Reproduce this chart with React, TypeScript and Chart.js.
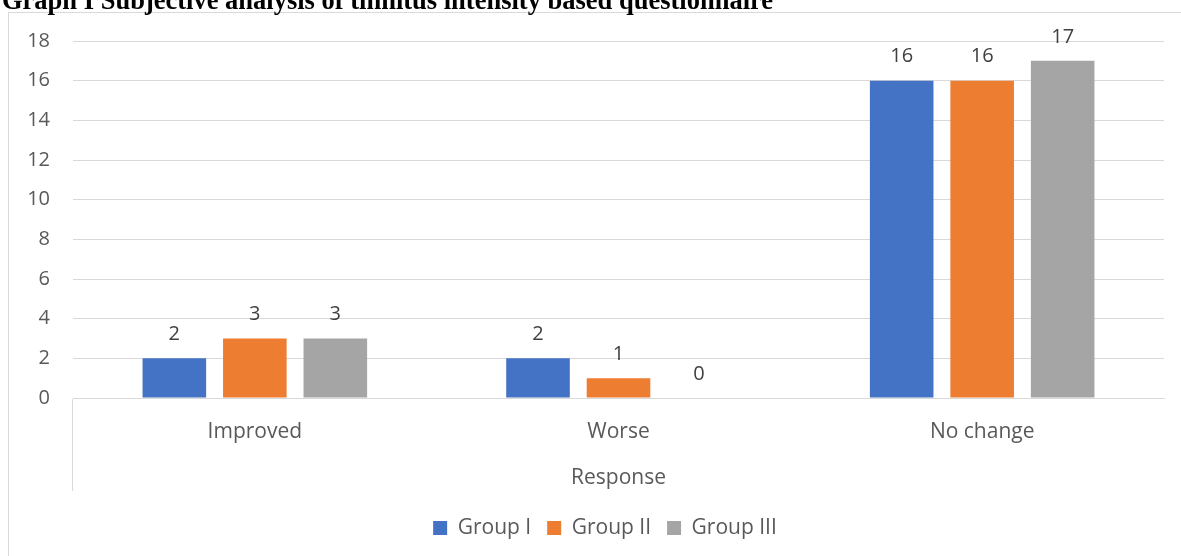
import React, { useEffect, useRef } from "react";
import { Chart, registerables } from "chart.js";

Chart.register(...registerables);

const titleText = "Graph I Subjective analysis of tinnitus intensity based questionnaire";
const categories = ["Improved", "Worse", "No change"];
const seriesNames = ["Group I", "Group II", "Group III"];
const groupI = [2, 2, 16];
const groupII = [3, 1, 16];
const groupIII = [3, 0, 17];
const seriesColors = ["#4472C4", "#ED7D31", "#A5A5A5"];
const yMin = 0;
const yMax = 18;
const yStep = 2;
const xAxisTitle = "Response";

const FONT = '"Open Sans"';
const FS = 21;

const dataLabels = {
  id: "dataLabels",
  afterDatasetsDraw(chart: any) {
    const ctx = chart.ctx;
    ctx.save();
    ctx.font = `${FS - 1}px ${FONT}`;
    ctx.fillStyle = "#404040";
    ctx.textAlign = "center";
    ctx.textBaseline = "middle";
    chart.data.datasets.forEach((ds: any, i: number) => {
      const meta = chart.getDatasetMeta(i);
      meta.data.forEach((el: any, j: number) => {
        ctx.fillText(String(ds.data[j]), el.x, el.y - 24);
      });
    });
    ctx.restore();
  },
};

const shiftLegend = {
  id: "shiftLegend",
  afterLayout(chart: any) {
    const l = chart.legend;
    if (l) {
      l.left += 23;
      l.right += 23;
    }
  },
};

export default function App() {
  const ref = useRef<HTMLCanvasElement | null>(null);

  useEffect(() => {
    if (!ref.current) return;
    const all = [groupI, groupII, groupIII];
    const chart = new Chart(ref.current, {
      type: "bar",
      data: {
        labels: categories,
        datasets: all.map((d, i) => ({
          label: seriesNames[i],
          data: d,
          backgroundColor: seriesColors[i],
          borderWidth: 0,
          categoryPercentage: 0.664,
          barPercentage: 0.79,
        })),
      },
      options: {
        responsive: false,
        animation: false,
        devicePixelRatio: 1,
        layout: { padding: { left: 0, right: 17, top: 41, bottom: 7.5 } },
        plugins: {
          title: { display: false },
          tooltip: { enabled: false },
          legend: {
            position: "bottom",
            labels: {
              color: "#595959",
              font: { family: FONT, size: FS },
              boxWidth: 14,
              boxHeight: 14,
              padding: 16,
            },
          },
        },
        scales: {
          x: {
            grid: {
              offset: true,
              drawOnChartArea: false,
              drawTicks: true,
              tickLength: 93,
              color: (c: any) => (c.index === 0 || c.index === categories.length ? "#d9d9d9" : "rgba(0,0,0,0)"),
            },
            border: { display: true, color: "#d9d9d9", width: 1 },
            ticks: {
              color: "#595959",
              font: { family: FONT, size: FS },
              padding: -72,
              maxRotation: 0,
            },
            title: {
              display: true,
              text: xAxisTitle,
              color: "#595959",
              font: { family: FONT, size: FS },
              padding: { top: 0, bottom: 11 },
            },
            afterFit: (s: any) => {
              s.height = 103.5;
            },
          },
          y: {
            min: yMin,
            max: yMax,
            ticks: {
              stepSize: yStep,
              color: "#595959",
              font: { family: FONT, size: FS - 1 },
              padding: 23,
            },
            grid: { color: "#d9d9d9", drawTicks: false },
            border: { display: false },
            afterFit: (s: any) => {
              s.width = 73;
            },
          },
        },
      },
      plugins: [dataLabels, shiftLegend],
    });
    return () => chart.destroy();
  }, []);

  return (
    <div style={{ position: "fixed", left: 0, top: 0, width: 1181, height: 556, overflow: "hidden", background: "#fff" }}>
      <div
        style={{
          position: "absolute",
          left: 8,
          top: 12,
          width: 1300,
          height: 700,
          border: "1px solid #d9d9d9",
        }}
      />
      <canvas ref={ref} width={1181} height={556} style={{ position: "absolute", left: 0, top: 0 }} />
      <div
        style={{
          position: "absolute",
          left: 2,
          top: -13,
          font: 'bold 26.5px "Liberation Serif"',
          lineHeight: "26.5px",
          whiteSpace: "nowrap",
          color: "#000",
        }}
      >
        {titleText}
      </div>
    </div>
  );
}
